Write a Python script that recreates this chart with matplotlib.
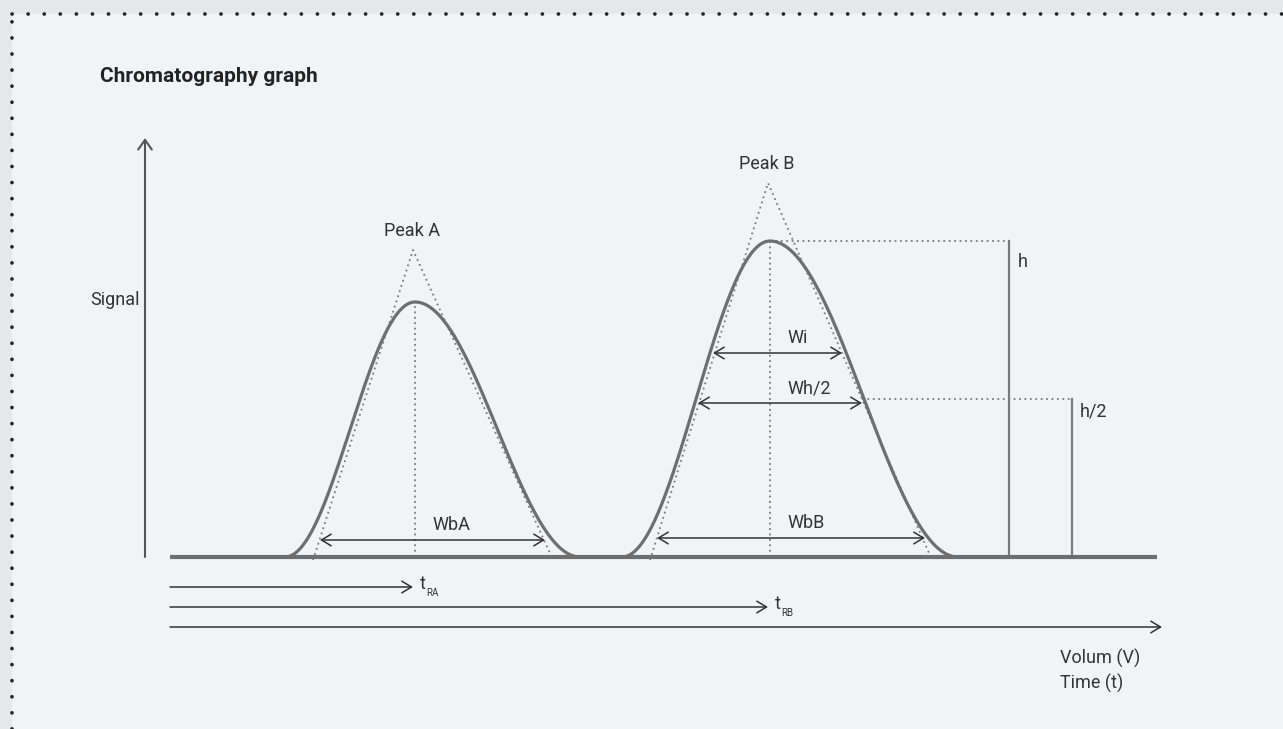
import numpy as np
import matplotlib.pyplot as plt
from matplotlib.patches import Rectangle
from matplotlib.lines import Line2D

plt.rcParams['font.family'] = ['Roboto', 'DejaVu Sans']

# x = retention time / volume, y = signal (arbitrary diagram units)
peak_names = ['Peak A', 'Peak B']
peak_center = [245, 600]
peak_height = [255, 316]
peak_left = [130, 148]     # half width on the rising side
peak_right = [165, 188]    # half width on the tailing side

# tangent triangles drawn over each peak
apex_x = [243, 598]
apex_y = [307, 374]
tangent_base_left = [143, 480]
tangent_base_right = [383, 762]

# width arrows: label, height, start, end
width_labels = ['WbA', 'WbB', 'Wi', 'Wh/2']
width_y = [17, 19, 204, 154]
width_x0 = [150, 487, 543, 528]
width_x1 = [375, 755, 672, 692]

baseline_end = 987
axis_end = 992
signal_top = 419
h_marker_x = 839
h2_marker_x = 902

grey = '#6e6e6e'
dark = '#333333'
dot_grey = '#7a7a7a'
body = dict(fontsize=13, color=dark)

fig = plt.figure(figsize=(12.83, 7.29), dpi=100)
fig.patch.set_facecolor('#e6e7e9')
fig.patches.append(Rectangle((12 / 1283, 0), 1, 715 / 729, transform=fig.transFigure,
                             facecolor='#f2f3f5', edgecolor='none', zorder=-2))
for xs, ys in [([12 / 1283, 1], [715 / 729, 715 / 729]), ([12 / 1283, 12 / 1283], [0, 715 / 729])]:
    fig.lines.append(Line2D(xs, ys, transform=fig.transFigure, color='#222222', lw=2.6,
                            linestyle=(0, (0.05, 4.4)), dash_capstyle='round', zorder=-1))

ax = fig.add_axes([0, 0, 1, 1])
ax.set_xlim(-170, 1113)
ax.set_ylim(-172, 557)
ax.axis('off')

# baseline
ax.plot([0, baseline_end], [0, 0], color=grey, lw=3, solid_capstyle='butt', zorder=3)

for i in range(2):
    c, hgt, l, r = peak_center[i], peak_height[i], peak_left[i], peak_right[i]
    x = np.linspace(c - l, c + r, 400)
    d = np.where(x < c, (c - x) / l, (x - c) / r)
    y = hgt * (1 + np.cos(np.pi * d)) / 2
    ax.plot(x, y, color=grey, lw=2.3, zorder=4)
    # tangents and centre line
    ax.plot([tangent_base_left[i], apex_x[i], tangent_base_right[i]], [-3, apex_y[i], -3],
            color=dot_grey, lw=1.3, linestyle=(0, (1, 2)), zorder=2)
    ax.plot([c, c], [0, hgt], color=dot_grey, lw=1.3, linestyle=(0, (1, 2)), zorder=2)
    ax.text(apex_x[i] - 1, apex_y[i] + 19, peak_names[i], ha='center', va='center', **body)

# width arrows
for lab, yy, x0, x1 in zip(width_labels, width_y, width_x0, width_x1):
    ax.annotate('', xy=(x1, yy), xytext=(x0, yy),
                arrowprops=dict(arrowstyle='<->,head_length=0.5,head_width=0.3', color=dark,
                                lw=1.1, shrinkA=0, shrinkB=0, mutation_scale=14), zorder=5)
    lx = 262 if lab == 'WbA' else 617
    ax.text(lx, yy + 15, lab, ha='left', va='center', **body)

# height markers for peak B
hB = peak_height[1]
ax.plot([peak_center[1], h_marker_x], [hB, hB], color=dot_grey, lw=1.3, linestyle=(0, (1, 2)))
ax.plot([h_marker_x, h_marker_x], [0, hB], color=dot_grey, lw=1.6)
ax.text(h_marker_x + 9, hB - 21, 'h', ha='left', va='center', **body)
ax.plot([width_x1[3], h2_marker_x], [hB / 2, hB / 2], color=dot_grey, lw=1.3, linestyle=(0, (1, 2)))
ax.plot([h2_marker_x, h2_marker_x], [0, hB / 2], color=dot_grey, lw=1.6)
ax.text(h2_marker_x + 8, hB / 2 - 12, 'h/2', ha='left', va='center', **body)

# signal axis
ax.annotate('', xy=(-25, signal_top), xytext=(-25, 0),
            arrowprops=dict(arrowstyle='->,head_length=0.5,head_width=0.35', color='#555555',
                            lw=1.5, shrinkA=0, shrinkB=0, mutation_scale=14))
ax.text(-80, 257, 'Signal', ha='left', va='center', **body)

# retention time arrows
for yy, x1, sub in [(-30, peak_center[0], 'RA'), (-50, peak_center[1], 'RB')]:
    ax.annotate('', xy=(x1 - 2, yy), xytext=(0, yy),
                arrowprops=dict(arrowstyle='->,head_length=0.5,head_width=0.3', color=dark,
                                lw=1.1, shrinkA=0, shrinkB=0, mutation_scale=14))
    ax.text(x1 + 5, yy + 3, 't', ha='left', va='center', **body)
    ax.text(x1 + 11, yy - 6, sub, ha='left', va='center', fontsize=7, color=dark)
ax.annotate('', xy=(axis_end, -70), xytext=(0, -70),
            arrowprops=dict(arrowstyle='->,head_length=0.5,head_width=0.3', color=dark,
                            lw=1.1, shrinkA=0, shrinkB=0, mutation_scale=14))
ax.text(890, -101, 'Volum (V)', ha='left', va='center', **body)
ax.text(890, -126, 'Time (t)', ha='left', va='center', **body)

ax.text(-70, 481, 'Chromatography graph', ha='left', va='center', fontsize=15,
        fontweight='bold', color='#222222')

fig.savefig('out.png', dpi=100, facecolor=fig.get_facecolor())
